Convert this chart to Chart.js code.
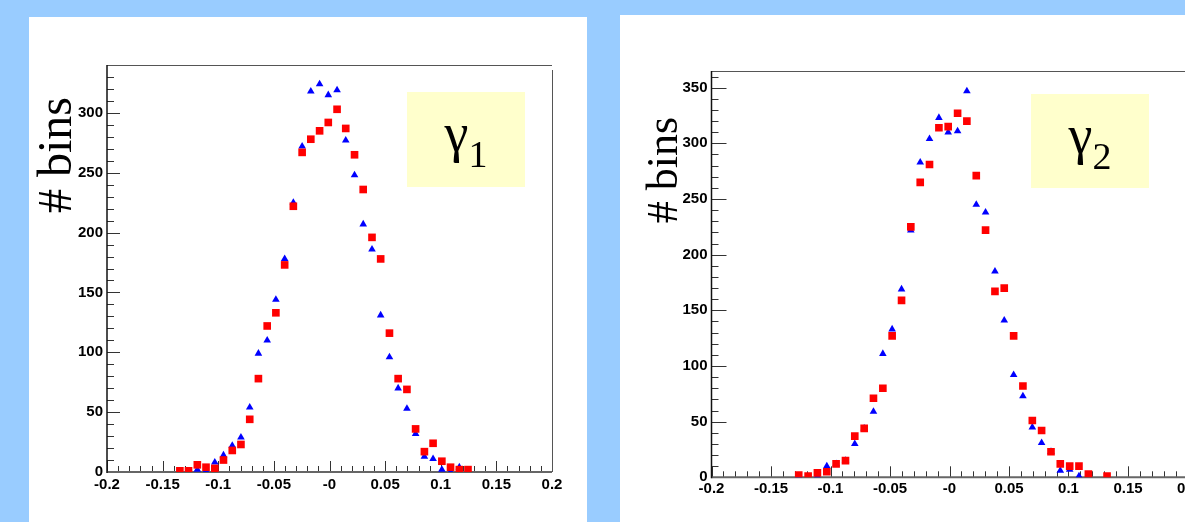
<!DOCTYPE html>
<html>
<head>
<meta charset="utf-8">
<script src="https://cdn.jsdelivr.net/npm/chart.js@4.4.1/dist/chart.umd.min.js"></script>
<style>
  html, body { margin: 0; padding: 0; }
  body { width: 1185px; height: 522px; overflow: hidden; background: #99ccff; position: relative; }
  canvas { position: absolute; background: #ffffff; }
  #left { left: 29px; top: 17px; }
  #right { left: 620px; top: 15px; }
</style>
</head>
<body>
<canvas id="left" width="558" height="505"></canvas>
<canvas id="right" width="600" height="507"></canvas>
<script>
// bin centres shared by both histograms
const binCenters = [
  -0.1345, -0.1267, -0.1188, -0.1110, -0.1031, -0.0953, -0.0874, -0.0796,
  -0.0717, -0.0639, -0.0560, -0.0482, -0.0403, -0.0325, -0.0246, -0.0168,
  -0.0089, -0.0011, 0.0068, 0.0146, 0.0225, 0.0303, 0.0382, 0.0460,
  0.0539, 0.0617, 0.0696, 0.0774, 0.0853, 0.0931, 0.1010, 0.1088,
  0.1167, 0.1245, 0.1324
];

// gamma 1 panel
const gamma1Red = [
  1, 1, 6, 4, 3, 10, 18, 23, 44, 78, 122, 133, 173, 222, 267, 278,
  285, 292, 303, 287, 265, 236, 196, 178, 116, 78, 69, 36, 17, 24, 9, 4,
  2, 2, null
];
const gamma1Blue = [
  null, null, 2, 1, 8, 14, 22, 29, 54, 99, 110, 144, 178, 225, 272, 318,
  324, 315, 319, 277, 248, 207, 186, 131, 96, 70, 53, 32, 13, 11, 2, 0,
  4, null, null
];

// gamma 2 panel
const gamma2Red = [
  null, 2, 1, 4, 5, 12, 15, 37, 44, 71, 80, 127, 159, 225, 265, 281,
  314, 315, 327, 320, 271, 222, 167, 170, 127, 82, 51, 42, 23, 12, 10, 10,
  3, null, 1
];
const gamma2Blue = [
  null, 1, null, 1, 10, 12, 15, 30, 44, 59, 111, 133, 169, 222, 283, 304,
  323, 310, 311, 347, 245, 238, 185, 141, 92, 73, 45, 31, 23, 6, 7, 1,
  null, null, null
];

const xTickValues = [-0.2, -0.15, -0.1, -0.05, 0, 0.05, 0.1, 0.15, 0.2];
const yTickValues1 = [0, 50, 100, 150, 200, 250, 300];
const yTickValues2 = [0, 50, 100, 150, 200, 250, 300, 350];

// narrow bold sans if there is one, plain bold sans otherwise
function pickTickFont() {
  const c = document.createElement("canvas").getContext("2d");
  c.font = "bold 20px monospace";
  const a = c.measureText("-0.15 300").width;
  c.font = "bold 20px 'Liberation Sans Narrow', monospace";
  const b = c.measureText("-0.15 300").width;
  if (a !== b) {
    return { family: "'Liberation Sans Narrow', sans-serif", size: 17, weight: "bold" };
  }
  return { family: "'Liberation Sans', Arial, sans-serif", size: 15, weight: "bold" };
}
const tickFont = pickTickFont();

function toPoints(ys) {
  return binCenters
    .map((x, i) => ({ x: x, y: ys[i] }))
    .filter((p) => p.y !== null);
}

function fmtX(v) {
  const r = Math.round(v * 100) / 100;
  if (Math.abs(r) < 1e-9) return "-0";
  return String(r);
}

// ROOT-like frame: inner ticks, axis lines, legend box and axis title
const rootFrame = {
  id: "rootFrame",
  beforeDatasetsDraw(chart, args, o) {
    const ctx = chart.ctx;
    const a = chart.chartArea;
    const x = chart.scales.x;
    const y = chart.scales.y;
    ctx.save();

    // legend box
    ctx.fillStyle = "#ffffcc";
    ctx.fillRect(o.box[0], o.box[1], o.box[2], o.box[3]);
    ctx.fillStyle = "#000";
    ctx.textBaseline = "alphabetic";
    ctx.textAlign = "left";
    ctx.font = "54px 'Liberation Serif', 'Times New Roman', serif";
    const gW = ctx.measureText("γ").width;
    ctx.font = "38px 'Liberation Serif', 'Times New Roman', serif";
    const sW = ctx.measureText(o.sub).width;
    const sx = o.box[0] + (o.box[2] - gW - sW) / 2;
    ctx.font = "54px 'Liberation Serif', 'Times New Roman', serif";
    ctx.fillText("γ", sx, o.box[1] + 59);
    ctx.font = "38px 'Liberation Serif', 'Times New Roman', serif";
    ctx.fillText(o.sub, sx + gW, o.box[1] + 75);

    // y title
    ctx.save();
    ctx.translate(o.title[0], o.title[1]);
    ctx.rotate(-Math.PI / 2);
    ctx.textAlign = "center";
    ctx.font = o.titleSize + "px 'Liberation Serif', 'Times New Roman', serif";
    ctx.fillText("# bins", 0, 0);
    ctx.restore();

    // ticks
    ctx.strokeStyle = "#333";
    ctx.lineWidth = 1;
    ctx.beginPath();
    for (let k = 0; k * 10 <= y.max + 1e-6; k++) {
      const py = Math.round(y.getPixelForValue(k * 10)) + 0.5;
      const len = k % 5 === 0 ? o.yMajor : o.yMinor;
      ctx.moveTo(a.left, py);
      ctx.lineTo(a.left + len, py);
    }
    for (let k = 0; k <= 40; k++) {
      const px = Math.round(x.getPixelForValue(-0.2 + k * 0.01)) + 0.5;
      const len = k % 5 === 0 ? o.xMajor : o.xMinor;
      ctx.moveTo(px, a.bottom);
      ctx.lineTo(px, a.bottom - len);
    }
    ctx.stroke();

    // frame
    ctx.strokeStyle = "#555";
    ctx.lineWidth = 1;
    ctx.beginPath();
    ctx.moveTo(a.left, a.top + 0.5);
    ctx.lineTo(a.right, a.top + 0.5);
    ctx.moveTo(a.right + 0.5, a.top + 5);
    ctx.lineTo(a.right + 0.5, a.bottom);
    ctx.stroke();

    ctx.strokeStyle = "#666";
    ctx.lineWidth = 2;
    ctx.beginPath();
    ctx.moveTo(a.left, a.bottom);
    ctx.lineTo(a.right, a.bottom);
    ctx.stroke();

    ctx.strokeStyle = "#111";
    ctx.lineWidth = 1.5;
    ctx.beginPath();
    ctx.moveTo(a.left, a.top);
    ctx.lineTo(a.left, a.bottom + 1);
    ctx.stroke();

    ctx.restore();
  },
};

function makeChart(id, red, blue, yMax, yTicks, geom) {
  const ctx = document.getElementById(id).getContext("2d");
  return new Chart(ctx, {
    type: "scatter",
    data: {
      datasets: [
        {
          label: "red",
          data: toPoints(red),
          pointStyle: "rect",
          pointRadius: 5.4,
          backgroundColor: "#ff0000",
          borderWidth: 0,
        },
        {
          label: "blue",
          data: toPoints(blue),
          pointStyle: "triangle",
          pointRadius: 4.4,
          backgroundColor: "#0000ff",
          borderWidth: 0,
        },
      ],
    },
    options: {
      responsive: false,
      animation: false,
      devicePixelRatio: 1,
      layout: {
        padding: { left: 0, top: geom.top, right: geom.right, bottom: 0 },
      },
      plugins: {
        legend: { display: false },
        tooltip: { enabled: false },
        rootFrame: geom.frame,
      },
      scales: {
        x: {
          type: "linear",
          min: -0.2,
          max: 0.2,
          grid: { display: false, drawTicks: false },
          border: { display: false },
          afterBuildTicks: (scale) => {
            scale.ticks = xTickValues.map((v) => ({ value: v }));
          },
          afterFit: (scale) => {
            scale.height = geom.xHeight;
          },
          ticks: {
            color: "#000",
            font: tickFont,
            padding: geom.xPad,
            maxRotation: 0,
            autoSkip: false,
            callback: (v) => fmtX(v),
          },
        },
        y: {
          type: "linear",
          min: 0,
          max: yMax,
          grid: { display: false, drawTicks: false },
          border: { display: false },
          afterBuildTicks: (scale) => {
            scale.ticks = yTicks.map((v) => ({ value: v }));
          },
          afterFit: (scale) => {
            scale.width = geom.yWidth;
          },
          ticks: {
            color: "#000",
            font: tickFont,
            padding: 4,
            autoSkip: false,
            callback: (v) => String(v),
          },
        },
      },
    },
    plugins: [rootFrame],
  });
}

makeChart("left", gamma1Red, gamma1Blue, 340, yTickValues1, {
  top: 48,
  right: 35,
  yWidth: 78,
  xHeight: 50,
  xPad: 4,
  frame: {
    sub: "1",
    box: [378, 75, 118, 95],
    title: [42, 138],
    titleSize: 48,
    yMajor: 13,
    yMinor: 7,
    xMajor: 11,
    xMinor: 6,
  },
});

makeChart("right", gamma2Red, gamma2Blue, 365, yTickValues2, {
  top: 56,
  right: 32.5,
  yWidth: 91.5,
  xHeight: 44.7,
  xPad: 3,
  frame: {
    sub: "2",
    box: [411, 79, 118, 94],
    title: [57, 155],
    titleSize: 44,
    yMajor: 15,
    yMinor: 7,
    xMajor: 11,
    xMinor: 6,
  },
});
</script>
</body>
</html>
